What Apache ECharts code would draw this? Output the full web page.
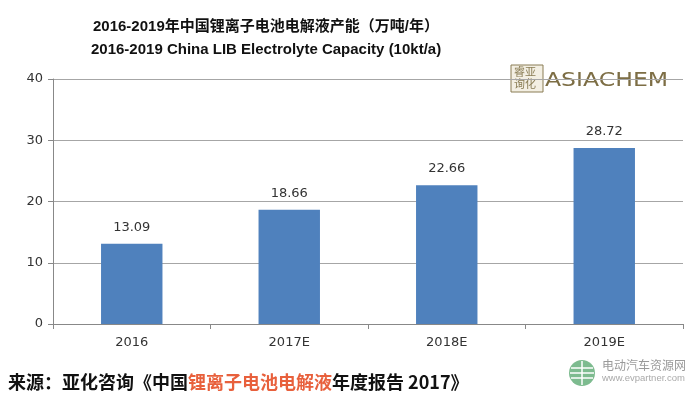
<!DOCTYPE html>
<html><head><meta charset="utf-8">
<script src="https://cdn.jsdelivr.net/npm/echarts@6/dist/echarts.min.js"></script>
<style>html,body{margin:0;padding:0;background:#fff}#c{width:700px;height:395px}</style>
</head><body><div id="c"></div>
<script>
var categories = ['2016', '2017E', '2018E', '2019E'];
var capacity = [13.09, 18.66, 22.66, 28.72];
var yTicks = [0, 10, 20, 30, 40];

var chart = echarts.init(document.getElementById('c'));
chart.setOption({
  animation: false,
  backgroundColor: '#fff',
  grid: {left: 53, right: 17, top: 79, bottom: 71},
  graphic: [
    {type: 'text', left: 93, top: 19, style: {text: '2016-2019年中国锂离子电池电解液产能（万吨/年）', font: 'bold 15px "Liberation Sans", Arial, "Noto Sans CJK SC"', fill: '#111'}},
    {type: 'text', left: 91, top: 42, style: {text: '2016-2019 China LIB Electrolyte Capacity (10kt/a)', font: 'bold 15px "Liberation Sans", Arial', fill: '#111'}},
    {type: 'rect', shape: {x: 507, y: 62, width: 185, height: 32}, style: {fill: '#fff'}},
    {type: 'rect', shape: {x: 511, y: 65, width: 32, height: 27}, style: {fill: '#f3efe3', stroke: '#8a7d55', lineWidth: 1}},
    {type: 'text', left: 514, top: 66, style: {text: '睿亚\n询化', font: '11px "Noto Sans CJK SC"', fill: '#8a7d55', lineHeight: 12}},
    {type: 'text', x: 545, y: 81, scaleX: 1.24, style: {text: 'ASIACHEM', font: '19px "DejaVu Sans"', fill: '#7d6e45', verticalAlign: 'middle'}},
    {type: 'text', left: 8, top: 373, style: {rich: {
      a: {font: 'bold 18px "Noto Sans CJK SC"', fill: '#111'},
      b: {font: 'bold 18px "Noto Sans CJK SC"', fill: '#e8603c'}
    }, text: '{a|来源：亚化咨询《中国}{b|锂离子电池电解液}{a|年度报告 2017》}'}},
    {type: 'circle', shape: {cx: 582, cy: 373, r: 13}, style: {fill: '#7dbb8f'}},
    {type: 'line', shape: {x1: 571, y1: 368, x2: 593, y2: 368}, style: {stroke: '#fff', lineWidth: 1.5}},
    {type: 'line', shape: {x1: 570, y1: 373, x2: 594, y2: 373}, style: {stroke: '#fff', lineWidth: 1.5}},
    {type: 'line', shape: {x1: 571, y1: 378, x2: 593, y2: 378}, style: {stroke: '#fff', lineWidth: 1.5}},
    {type: 'line', shape: {x1: 582, y1: 361, x2: 582, y2: 385}, style: {stroke: '#fff', lineWidth: 1.5}},
    {type: 'text', left: 602, top: 359, style: {text: '电动汽车资源网', font: '12px "Noto Sans CJK SC"', fill: '#9a9a9a'}},
    {type: 'text', left: 602, top: 373, style: {text: 'www.evpartner.com', font: '9.5px "Liberation Sans"', fill: '#aaa'}}
  ],
  xAxis: {
    type: 'category', data: categories,
    axisLine: {lineStyle: {color: '#888', width: 1}},
    axisTick: {show: true, alignWithLabel: false, length: 5, lineStyle: {color: '#888'}},
    axisLabel: {color: '#333', fontSize: 13, margin: 12, fontFamily: 'Verdana, "DejaVu Sans"'}
  },
  yAxis: {
    type: 'value', min: yTicks[0], max: yTicks[yTicks.length - 1], interval: 10,
    axisLine: {show: true, lineStyle: {color: '#888'}},
    axisTick: {show: true, length: 5, lineStyle: {color: '#888'}},
    axisLabel: {color: '#333', fontSize: 13, margin: 10, fontFamily: 'Verdana, "DejaVu Sans"'},
    splitLine: {lineStyle: {color: '#a6a6a6', width: 1}}
  },
  series: [{
    type: 'bar', data: capacity, barWidth: '39%',
    itemStyle: {color: '#4f81bd'},
    label: {show: true, position: 'top', distance: 10, color: '#333', fontSize: 13, fontFamily: 'Verdana, "DejaVu Sans"', formatter: function(p){return p.value.toFixed(2);}}
  }]
});
</script></body></html>
